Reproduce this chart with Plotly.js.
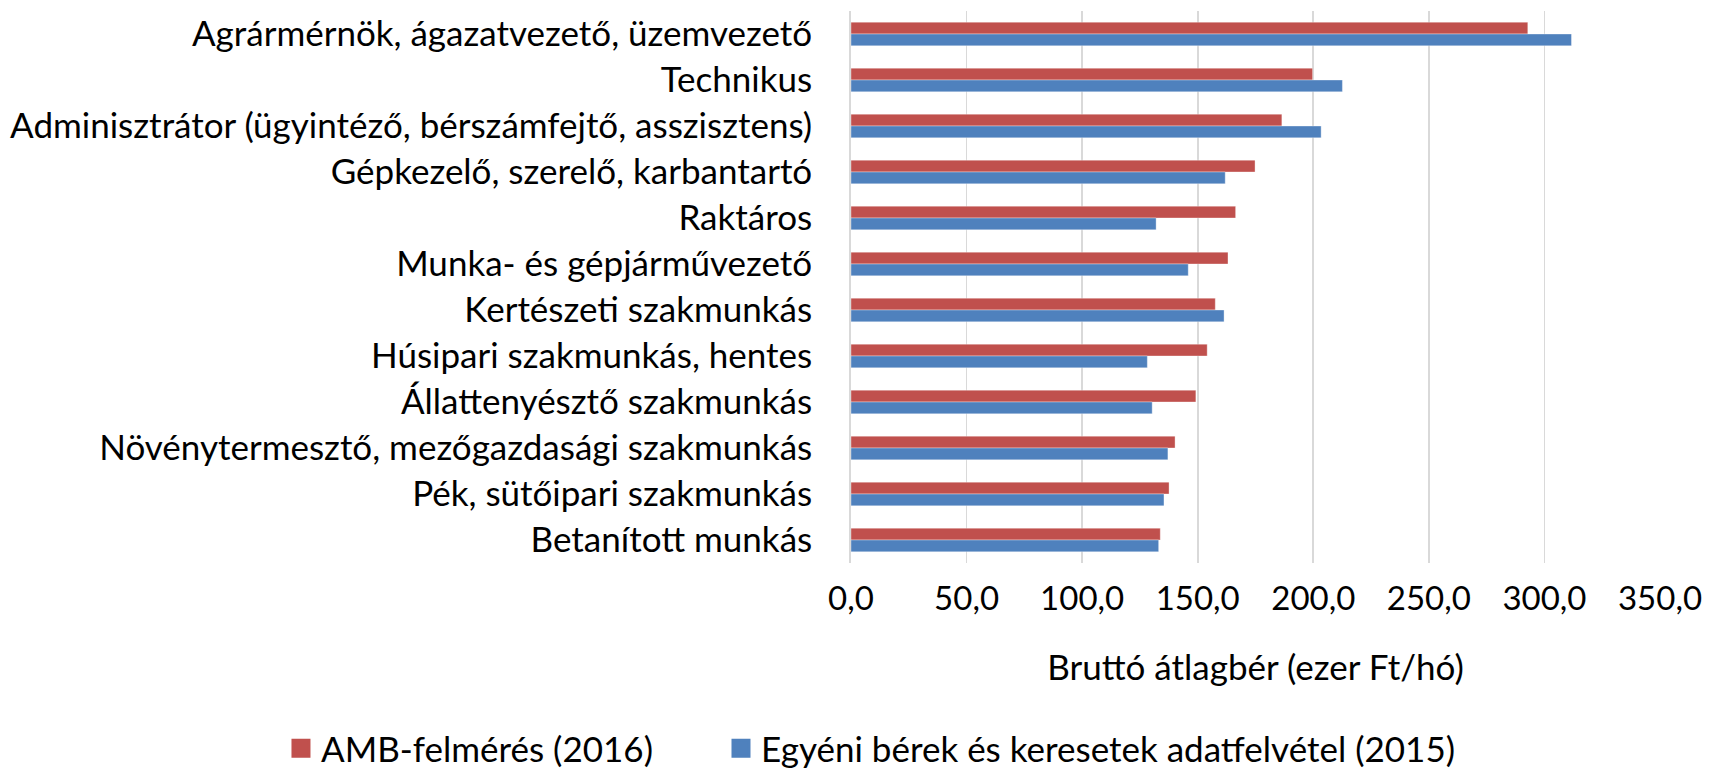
<!DOCTYPE html>
<html>
<head>
<meta charset="utf-8">
<script src="https://cdn.plot.ly/plotly-3.0.1.min.js"></script>
<style>html,body{margin:0;padding:0;background:#fff;}#chart{width:1710px;height:770px;}</style>
</head>
<body>
<div id="chart"></div>
<script>
const categories = [
  "Agrármérnök, ágazatvezető, üzemvezető",
  "Technikus",
  "Adminisztrátor (ügyintéző, bérszámfejtő, asszisztens)",
  "Gépkezelő, szerelő, karbantartó",
  "Raktáros",
  "Munka- és gépjárművezető",
  "Kertészeti szakmunkás",
  "Húsipari szakmunkás, hentes",
  "Állattenyésztő szakmunkás",
  "Növénytermesztő, mezőgazdasági szakmunkás",
  "Pék, sütőipari szakmunkás",
  "Betanított munkás"
];
const amb2016 = [292.8, 199.7, 186.4, 174.8, 166.4, 163.1, 157.6, 154.1, 149.2, 140.2, 137.6, 133.8];
const egyeni2015 = [311.7, 212.6, 203.4, 161.9, 132.0, 145.9, 161.4, 128.2, 130.3, 137.1, 135.4, 133.1];
const seriesNames = ["AMB-felmérés (2016)", "Egyéni bérek és keresetek adatfelvétel (2015)"];
const seriesColors = ["#C0504D", "#4F81BD"];
const tickValues = [0, 50, 100, 150, 200, 250, 300, 350];
const tickLabels = ["0,0", "50,0", "100,0", "150,0", "200,0", "250,0", "300,0", "350,0"];
const xTitle = "Bruttó átlagbér (ezer Ft/hó)";

const FONT = "Lato, 'Open Sans', sans-serif";
const FS = 35;

const barTraces = [amb2016, egyeni2015].map((vals, i) => ({
  type: "bar", orientation: "h", name: seriesNames[i],
  y: categories, x: vals, showlegend: false,
  marker: {color: seriesColors[i], line: {color: "rgba(255,255,255,0.35)", width: 1}},
  hoverinfo: "x+y"
}));

// legend entries (square keys like the original), no plotted marks
const legendTraces = seriesNames.map((nm, i) => ({
  type: "scatter", mode: "markers", name: nm,
  x: [null], y: [null],
  legend: i === 0 ? "legend" : "legend2",
  marker: {symbol: "square", size: 16, color: seriesColors[i], line: {color: seriesColors[i], width: 3}},
  hoverinfo: "skip"
}));

const legendBase = {
  orientation: "h",
  xanchor: "left",
  y: -0.336, yanchor: "middle",
  font: {family: FONT, size: FS, color: "#000"},
  bgcolor: "rgba(0,0,0,0)"
};

const layout = {
  width: 1710, height: 770,
  paper_bgcolor: "#fff", plot_bgcolor: "#fff",
  margin: {l: 851, r: 50, t: 11, b: 207, autoexpand: false},
  font: {family: FONT, size: FS, color: "#000"},
  barmode: "group",
  bargap: 0.485,
  bargroupgap: 0,
  showlegend: true,
  legend: Object.assign({}, legendBase, {x: -0.7046}),
  legend2: Object.assign({}, legendBase, {x: -0.1607}),
  xaxis: {
    range: [0, 350],
    tickvals: tickValues,
    ticktext: tickLabels,
    showgrid: true, gridcolor: "#D9D9D9", gridwidth: 1.8,
    zeroline: false, showline: false,
    ticks: "",
    ticklabelstandoff: 13,
    tickfont: {family: FONT, size: 33, color: "#000"},
    automargin: false,
    fixedrange: true,
    title: {text: xTitle, font: {family: FONT, size: FS, color: "#000"}, standoff: 39}
  },
  yaxis: {
    type: "category",
    autorange: "reversed",
    showgrid: false, zeroline: false,
    showline: true, linecolor: "#D9D9D9", linewidth: 1.8,
    ticks: "",
    ticklabelstandoff: 30,
    tickfont: {family: FONT, size: FS, color: "#000"},
    automargin: false,
    fixedrange: true
  }
};

Plotly.newPlot("chart", barTraces.concat(legendTraces), layout, {displayModeBar: false, staticPlot: true});
</script>
</body>
</html>
